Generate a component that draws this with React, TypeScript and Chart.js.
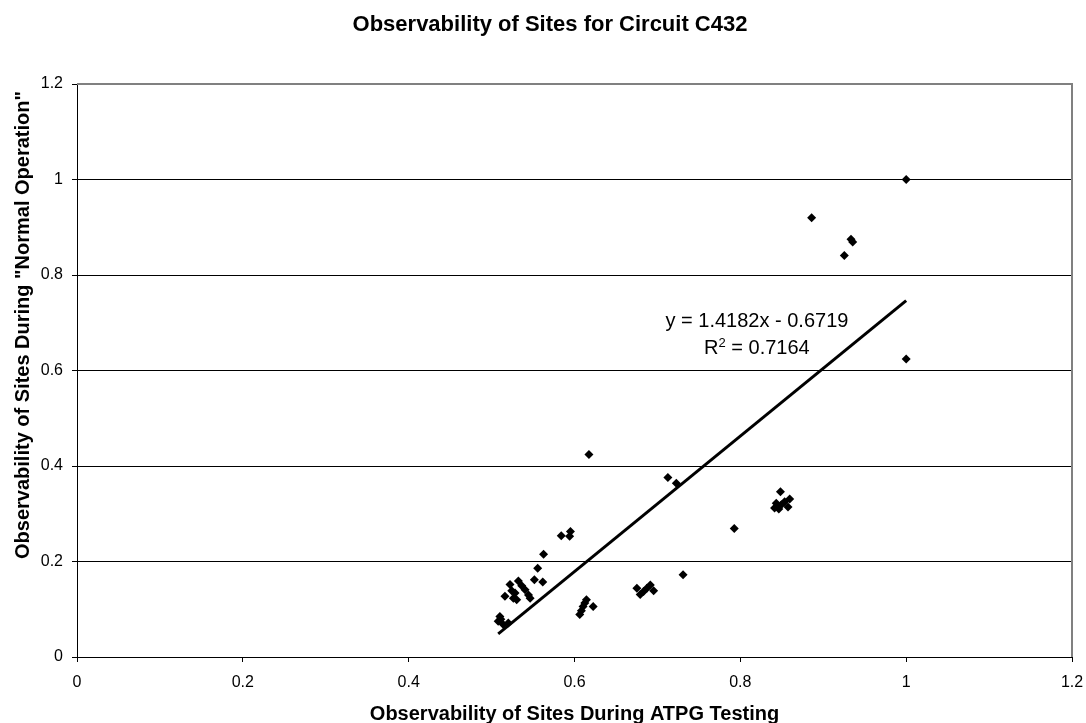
import React, { useEffect, useRef } from "react";
import { Chart, registerables } from "chart.js";

Chart.register(...registerables);

const chartTitle = "Observability of Sites for Circuit C432";
const xAxisTitle = "Observability of Sites During ATPG Testing";
const yAxisTitle = 'Observability of Sites During "Normal Operation"';

const xTicks = [0, 0.2, 0.4, 0.6, 0.8, 1, 1.2];
const yTicks = [0, 0.2, 0.4, 0.6, 0.8, 1, 1.2];

const atpgObs = [
  1.0, 0.886, 0.9335, 0.9355, 0.9254, 1.0, 0.6174, 0.7126, 0.7228, 0.7927,
  0.7309, 0.8484, 0.8433, 0.8595, 0.8575, 0.8413, 0.8494, 0.8534, 0.8464, 0.6752,
  0.6833, 0.6914, 0.6954, 0.6792, 0.6873, 0.5951, 0.584, 0.5941, 0.5627, 0.5556,
  0.5516, 0.5617, 0.5222, 0.5323, 0.5364, 0.5404, 0.5445, 0.5465, 0.5161, 0.5263,
  0.5283, 0.5303, 0.51, 0.508, 0.5141, 0.5202, 0.5111, 0.6063, 0.6144, 0.6103,
  0.6225, 0.6124, 0.6083, 0.5243,
];
const normalObs = [
  1.0, 0.92, 0.875, 0.869, 0.841, 0.624, 0.424, 0.376, 0.364, 0.269,
  0.172, 0.346, 0.322, 0.331, 0.314, 0.312, 0.319, 0.325, 0.31, 0.144,
  0.137, 0.151, 0.139, 0.131, 0.144, 0.263, 0.254, 0.253, 0.215, 0.186,
  0.162, 0.157, 0.152, 0.159, 0.149, 0.141, 0.13, 0.123, 0.127, 0.123,
  0.134, 0.12, 0.085, 0.075, 0.068, 0.071, 0.079, 0.089, 0.12, 0.106,
  0.106, 0.113, 0.097, 0.139,
];

const trendSlope = 1.4182;
const trendIntercept = -0.6719;
const equationText = "y = 1.4182x - 0.6719";
const rSquaredText = "0.7164";

const FAMILY = "'Liberation Sans', Arial, sans-serif";
const fmt = (v: number) => String(Number(Number(v).toFixed(1)));

export default function App() {
  const ref = useRef<HTMLCanvasElement | null>(null);

  useEffect(() => {
    if (!ref.current) return;
    const points = atpgObs.map((x, i) => ({ x, y: normalObs[i] }));
    const xMin = Math.min(...atpgObs);
    const xMax = Math.max(...atpgObs);
    const trend = [
      { x: xMin, y: trendSlope * xMin + trendIntercept },
      { x: xMax, y: trendSlope * xMax + trendIntercept },
    ];

    const textPlugin = {
      id: "textPlugin",
      afterDraw(chart: any) {
        const ctx = chart.ctx;
        const area = chart.chartArea;
        const xs = chart.scales.x;
        const ys = chart.scales.y;
        ctx.save();
        ctx.strokeStyle = "#808080";
        ctx.lineWidth = 2;
        ctx.beginPath();
        ctx.moveTo(area.left, area.top);
        ctx.lineTo(area.right, area.top);
        ctx.lineTo(area.right, area.bottom);
        ctx.stroke();

        ctx.fillStyle = "#000";
        ctx.textAlign = "center";
        ctx.textBaseline = "alphabetic";
        ctx.font = `bold 22px ${FAMILY}`;
        ctx.fillText(chartTitle, 550, 31);

        ctx.font = `bold 20px ${FAMILY}`;
        ctx.fillText(xAxisTitle, (area.left + area.right) / 2, 720);

        ctx.save();
        ctx.translate(29, 325);
        ctx.rotate(-Math.PI / 2);
        ctx.fillText(yAxisTitle, 0, 0);
        ctx.restore();

        const cx = xs.getPixelForValue(0.82);
        const y1 = ys.getPixelForValue(0.6917);
        const y2 = ys.getPixelForValue(0.6346);
        ctx.font = `20px ${FAMILY}`;
        ctx.fillText(equationText, cx, y1);
        const partR = "R";
        const rest = " = " + rSquaredText;
        const wR = ctx.measureText(partR).width;
        const wRest = ctx.measureText(rest).width;
        ctx.font = `13px ${FAMILY}`;
        const w2 = ctx.measureText("2").width;
        const total = wR + w2 + wRest;
        let sx = cx - total / 2;
        ctx.textAlign = "left";
        ctx.font = `20px ${FAMILY}`;
        ctx.fillText(partR, sx, y2);
        sx += wR;
        ctx.font = `13px ${FAMILY}`;
        ctx.fillText("2", sx, y2 - 7);
        sx += w2;
        ctx.font = `20px ${FAMILY}`;
        ctx.fillText(rest, sx, y2);
        ctx.restore();
      },
    };

    const chart = new Chart(ref.current, {
      type: "scatter",
      data: {
        datasets: [
          {
            label: "Sites",
            data: points,
            pointStyle: "rectRot",
            pointRadius: 4.5,
            backgroundColor: "#000",
            borderColor: "#000",
            borderWidth: 0,
          },
          {
            label: "Trend",
            type: "line",
            data: trend,
            borderColor: "#000",
            borderWidth: 3,
            pointRadius: 0,
            fill: false,
          } as any,
        ],
      },
      options: {
        animation: false,
        responsive: false,
        layout: { padding: { top: 84, right: 14, left: 0, bottom: 0 } },
        plugins: {
          legend: { display: false },
          title: { display: false },
          tooltip: { enabled: false },
        },
        scales: {
          x: {
            type: "linear",
            min: 0,
            max: 1.2,
            afterFit: (s: any) => {
              s.height = 66;
              s.paddingLeft = 0;
              s.paddingRight = 0;
            },
            afterBuildTicks: (s: any) => {
              s.ticks = xTicks.map((v) => ({ value: v }));
            },
            ticks: {
              color: "#000",
              font: { family: FAMILY, size: 16 },
              padding: 11,
              maxRotation: 0,
              callback: (v: any) => fmt(v),
            },
            grid: {
              drawOnChartArea: false,
              drawTicks: true,
              tickLength: 5,
              color: "#000",
            },
            border: { display: true, color: "#000", width: 1 },
          },
          y: {
            type: "linear",
            min: 0,
            max: 1.2,
            afterFit: (s: any) => {
              s.width = 77;
              s.paddingTop = 0;
              s.paddingBottom = 0;
            },
            afterBuildTicks: (s: any) => {
              s.ticks = yTicks.map((v) => ({ value: v }));
            },
            ticks: {
              color: "#000",
              font: { family: FAMILY, size: 16 },
              padding: 9,
              callback: (v: any) => fmt(v),
            },
            grid: {
              drawOnChartArea: true,
              drawTicks: true,
              tickLength: 5,
              color: "#000",
            },
            border: { display: true, color: "#000", width: 1 },
          },
        },
      },
      plugins: [textPlugin],
    });
    return () => chart.destroy();
  }, []);

  return (
    <div style={{ position: "fixed", left: 0, top: 0, width: 1086, height: 723, background: "#fff" }}>
      <canvas ref={ref} width={1086} height={723} />
    </div>
  );
}
